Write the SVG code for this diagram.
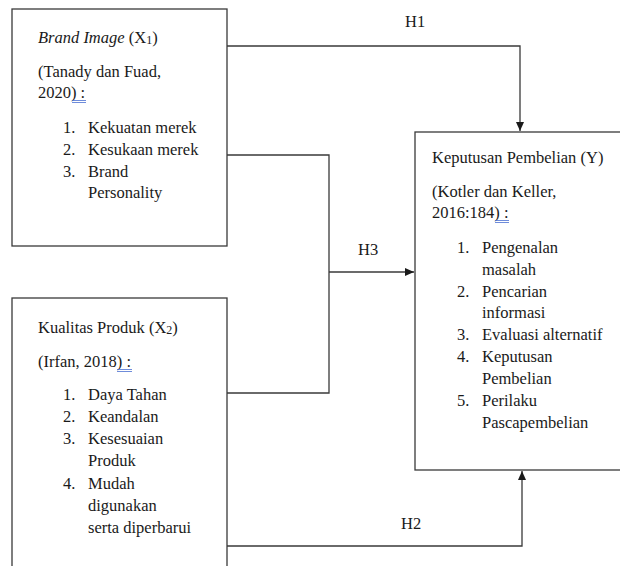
<svg xmlns="http://www.w3.org/2000/svg" width="620" height="566" viewBox="0 0 620 566">
<defs>
<style>
.box{fill:#fff;stroke:#3a3a3a;stroke-width:1.3}
.ln{fill:none;stroke:#3a3a3a;stroke-width:1.3}
.ul{stroke:#4a6fd0;stroke-width:0.8}
</style>
<marker id="arr" markerUnits="userSpaceOnUse" markerWidth="9" markerHeight="8" refX="9" refY="4" orient="auto">
<path d="M0,0 L9,4 L0,8 z" fill="#1a1a1a"/>
</marker>
</defs>
<rect width="620" height="566" fill="#fff"/>
<g id="connectors">
<path class="ln" d="M227,46 H520 V131" marker-end="url(#arr)"/>
<path class="ln" d="M227,155 H329 V393 H227"/>
<path class="ln" d="M329,272 H414" marker-end="url(#arr)"/>
<path class="ln" d="M227,546 H522 V471" marker-end="url(#arr)"/>
<text font-family="Liberation Serif" font-size="16.5" fill="#1a1a1a" x="405" y="27">H1</text>
<text font-family="Liberation Serif" font-size="16.5" fill="#1a1a1a" x="358" y="255">H3</text>
<text font-family="Liberation Serif" font-size="16.5" fill="#1a1a1a" x="401" y="529">H2</text>
</g>
<g id="brand-image">
<rect class="box" x="12" y="9" width="215" height="237"/>
<text font-family="Liberation Serif" font-size="16.5" fill="#1a1a1a" x="38" y="43"><tspan font-style="italic">Brand Image</tspan> (X<tspan font-size="12" dy="1">1</tspan><tspan dy="-1">)</tspan></text>
<text font-family="Liberation Serif" font-size="16.5" fill="#1a1a1a" x="38" y="77">(Tanady dan Fuad,</text>
<text font-family="Liberation Serif" font-size="16.5" fill="#1a1a1a" x="38" y="98">2020) :</text>
<line class="ul" x1="72" y1="100.5" x2="86" y2="100.5"/>
<line class="ul" x1="72" y1="102.5" x2="86" y2="102.5"/>
<text font-family="Liberation Serif" font-size="16.5" fill="#1a1a1a" x="63" y="133">1.</text><text font-family="Liberation Serif" font-size="16.5" fill="#1a1a1a" x="88" y="133">Kekuatan merek</text>
<text font-family="Liberation Serif" font-size="16.5" fill="#1a1a1a" x="63" y="155">2.</text><text font-family="Liberation Serif" font-size="16.5" fill="#1a1a1a" x="88" y="155">Kesukaan merek</text>
<text font-family="Liberation Serif" font-size="16.5" fill="#1a1a1a" x="63" y="177">3.</text><text font-family="Liberation Serif" font-size="16.5" fill="#1a1a1a" x="88" y="177">Brand</text>
<text font-family="Liberation Serif" font-size="16.5" fill="#1a1a1a" x="88" y="198">Personality</text>
</g>
<g id="kualitas-produk">
<rect class="box" x="12" y="298" width="215" height="275"/>
<text font-family="Liberation Serif" font-size="16.5" fill="#1a1a1a" x="38" y="333">Kualitas Produk (X<tspan font-size="12" dy="1">2</tspan><tspan dy="-1">)</tspan></text>
<text font-family="Liberation Serif" font-size="16.5" fill="#1a1a1a" x="38" y="367">(Irfan, 2018) :</text>
<line class="ul" x1="117" y1="369.5" x2="132" y2="369.5"/>
<line class="ul" x1="117" y1="371.5" x2="132" y2="371.5"/>
<text font-family="Liberation Serif" font-size="16.5" fill="#1a1a1a" x="63" y="400">1.</text><text font-family="Liberation Serif" font-size="16.5" fill="#1a1a1a" x="88" y="400">Daya Tahan</text>
<text font-family="Liberation Serif" font-size="16.5" fill="#1a1a1a" x="63" y="422">2.</text><text font-family="Liberation Serif" font-size="16.5" fill="#1a1a1a" x="88" y="422">Keandalan</text>
<text font-family="Liberation Serif" font-size="16.5" fill="#1a1a1a" x="63" y="444">3.</text><text font-family="Liberation Serif" font-size="16.5" fill="#1a1a1a" x="88" y="444">Kesesuaian</text>
<text font-family="Liberation Serif" font-size="16.5" fill="#1a1a1a" x="88" y="466">Produk</text>
<text font-family="Liberation Serif" font-size="16.5" fill="#1a1a1a" x="63" y="489">4.</text><text font-family="Liberation Serif" font-size="16.5" fill="#1a1a1a" x="88" y="489">Mudah</text>
<text font-family="Liberation Serif" font-size="16.5" fill="#1a1a1a" x="88" y="511">digunakan</text>
<text font-family="Liberation Serif" font-size="16.5" fill="#1a1a1a" x="88" y="533">serta diperbarui</text>
</g>
<g id="keputusan-pembelian">
<rect class="box" x="415" y="132" width="215" height="338"/>
<text font-family="Liberation Serif" font-size="16.5" fill="#1a1a1a" x="432" y="163">Keputusan Pembelian (Y)</text>
<text font-family="Liberation Serif" font-size="16.5" fill="#1a1a1a" x="432" y="197">(Kotler dan Keller,</text>
<text font-family="Liberation Serif" font-size="16.5" fill="#1a1a1a" x="432" y="218">2016:184) :</text>
<line class="ul" x1="495" y1="220.5" x2="509" y2="220.5"/>
<line class="ul" x1="495" y1="222.5" x2="509" y2="222.5"/>
<text font-family="Liberation Serif" font-size="16.5" fill="#1a1a1a" x="457" y="253">1.</text><text font-family="Liberation Serif" font-size="16.5" fill="#1a1a1a" x="482" y="253">Pengenalan</text>
<text font-family="Liberation Serif" font-size="16.5" fill="#1a1a1a" x="482" y="275">masalah</text>
<text font-family="Liberation Serif" font-size="16.5" fill="#1a1a1a" x="457" y="297">2.</text><text font-family="Liberation Serif" font-size="16.5" fill="#1a1a1a" x="482" y="297">Pencarian</text>
<text font-family="Liberation Serif" font-size="16.5" fill="#1a1a1a" x="482" y="318">informasi</text>
<text font-family="Liberation Serif" font-size="16.5" fill="#1a1a1a" x="457" y="340">3.</text><text font-family="Liberation Serif" font-size="16.5" fill="#1a1a1a" x="482" y="340">Evaluasi alternatif</text>
<text font-family="Liberation Serif" font-size="16.5" fill="#1a1a1a" x="457" y="362">4.</text><text font-family="Liberation Serif" font-size="16.5" fill="#1a1a1a" x="482" y="362">Keputusan</text>
<text font-family="Liberation Serif" font-size="16.5" fill="#1a1a1a" x="482" y="384">Pembelian</text>
<text font-family="Liberation Serif" font-size="16.5" fill="#1a1a1a" x="457" y="406">5.</text><text font-family="Liberation Serif" font-size="16.5" fill="#1a1a1a" x="482" y="406">Perilaku</text>
<text font-family="Liberation Serif" font-size="16.5" fill="#1a1a1a" x="482" y="428">Pascapembelian</text>
</g>
</svg>
